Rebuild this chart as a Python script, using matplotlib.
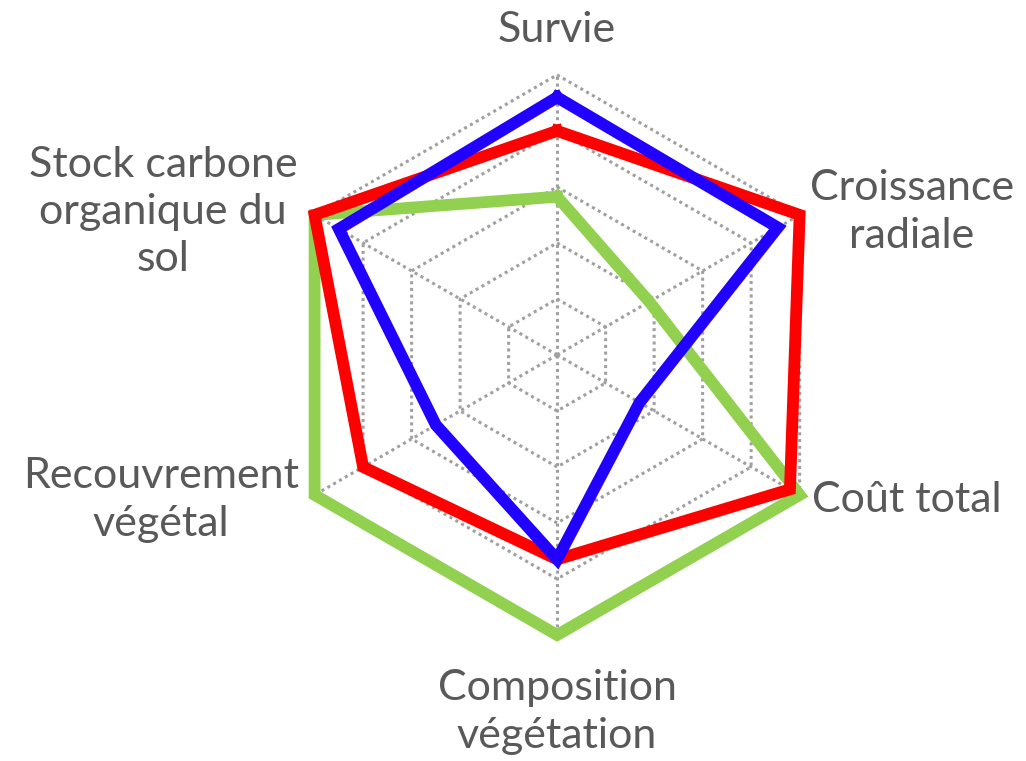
import numpy as np
import matplotlib
matplotlib.use("Agg")
import matplotlib.pyplot as plt

# axes, clockwise from the top
categories = ["Survie", "Croissance\nradiale", "Coût total",
              "Composition\nvégétation", "Recouvrement\nvégétal",
              "Stock carbone\norganique du\nsol"]
red = [0.80, 1.00, 0.96, 0.73, 0.80, 1.00]
blue = [0.92, 0.91, 0.34, 0.73, 0.50, 0.90]
green = [0.565, 0.38, 1.00, 1.00, 1.00, 1.00]
levels = [0.2, 0.4, 0.6, 0.8, 1.0]

plt.rcParams['font.family'] = ['Lato', 'DejaVu Sans']

fig = plt.figure(figsize=(10.26, 7.61), dpi=100)
ax = fig.add_axes([0.270, 0.1656, 0.546, 0.736], projection='polar')
ax.set_theta_zero_location('N')
ax.set_theta_direction(-1)
ax.set_ylim(0, 1)
ax.axis('off')

n = len(categories)
theta = np.linspace(0, 2 * np.pi, n, endpoint=False)
closed = np.append(theta, theta[0])

# dotted hexagon grid and spokes
for lv in levels:
    ax.plot(closed, [lv] * (n + 1), color='#a0a0a0', lw=2.2, ls=(0, (1, 1.2)),
            zorder=1, clip_on=False)
for t in theta:
    ax.plot([t, t], [0, 1], color='#a0a0a0', lw=2.2, ls=(0, (1, 1.2)), zorder=1)

for vals, col in [(green, '#92d050'), (red, '#ff0000'), (blue, '#2200ff')]:
    ax.plot(closed, vals + vals[:1], color=col, lw=8.5, solid_joinstyle='miter',
            zorder=3, clip_on=False)

# label centres in pixels of the original picture
label_xy = [(557, 30), (912, 212), (907, 500), (557, 712), (161, 500), (163, 212)]
for txt, (px, py) in zip(categories, label_xy):
    fig.text(px / 1026, 1 - py / 761, txt, ha='center', va='center',
             fontsize=31, color='#595959', linespacing=1.3)

fig.savefig("out.png", dpi=100)
